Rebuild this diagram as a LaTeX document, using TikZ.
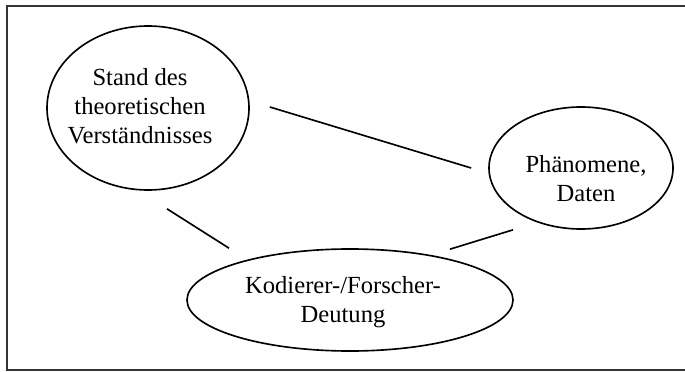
\documentclass[tikz,border=0pt]{standalone}
\usepackage{fontspec}
\setmainfont{Liberation Serif}
\usetikzlibrary{shapes.geometric}
\begin{document}
\begin{tikzpicture}[x=0.03cm,y=-0.03cm,
  bubble/.style={draw,ellipse,line width=1.4pt,inner sep=0pt},
  caption/.style={inner sep=0pt,align=center,
    font=\fontsize{21}{24.7}\selectfont},
  link/.style={line width=1.4pt},
  frame/.style={line width=2pt,draw=black!80}]
\useasboundingbox (0,0) rectangle (685,371);
% open frame: left, top and bottom edges
\draw[frame] (685,6) -- (7,6) -- (7,370) -- (685,370);
% the three ellipses
\node[bubble,minimum width=6.06cm,minimum height=4.92cm] (stand) at (148,108) {};
\node[bubble,minimum width=5.52cm,minimum height=3.66cm] (phaen) at (581,168) {};
\node[bubble,minimum width=9.78cm,minimum height=3.06cm] (kod) at (350,300) {};
% their inscriptions
\node[caption] (standtxt) at ([shift={(-8,-2)}]stand.center)
  {Stand des\\theoretischen\\Verständnisses};
\node[caption] (phaentxt) at ([shift={(5,11)}]phaen.center)
  {Phänomene,\\Daten};
\node[caption] (kodtxt) at ([shift={(-7,2)}]kod.center)
  {Kodierer-/Forscher-\\Deutung};
% connectors, kept clear of the ellipses
\draw[link] ([shift={(20,-1)}]stand.east) -- ([shift={(-17,0)}]phaen.west);
\draw[link] ([shift={(19,18)}]stand.south) -- ([shift={(-121,0)}]kod.north);
\draw[link] ([shift={(100,1)}]kod.north) -- ([shift={(-68,0)}]phaen.south);
\end{tikzpicture}
\end{document}
